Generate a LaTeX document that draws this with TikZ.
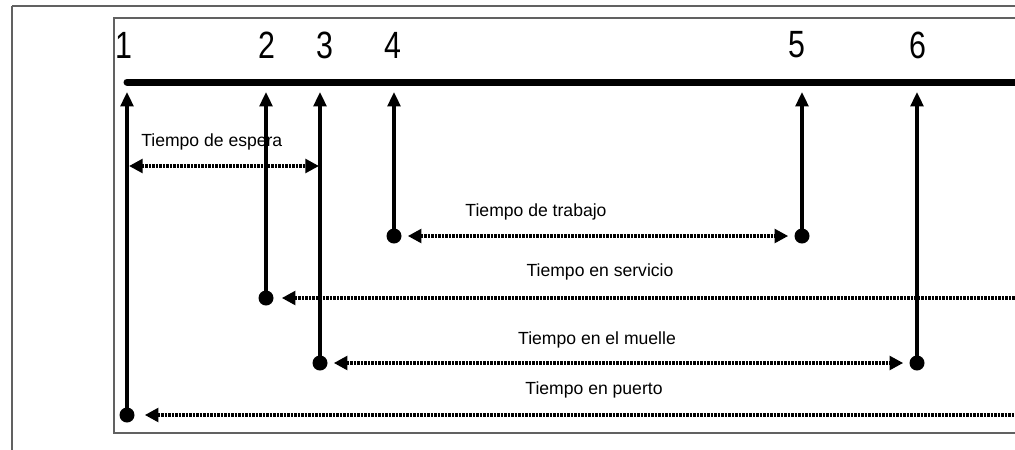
\documentclass[tikz,border=0pt]{standalone}
\usepackage{fontspec}
\setmainfont{Liberation Sans}
\newfontfamily\digitfont[FakeStretch=0.8]{Liberation Sans}
\usetikzlibrary{arrows.meta}
\newlength{\du}
\setlength{\du}{0.025cm}
\definecolor{framecolor}{rgb}{0.380000, 0.380000, 0.380000}
\definecolor{dialinecolor}{rgb}{0.000000, 0.000000, 0.000000}
\tikzset{
frameline/.style={draw=framecolor, line width=1.6\du},
timeaxis/.style={draw=dialinecolor, line width=7\du, line cap=round},
tickarrow/.style={draw=dialinecolor, line width=3.2\du, -{Triangle[length=0.36cm,width=0.32cm]}},
spanline/.style={draw=dialinecolor, line width=4\du, dash pattern=on 2.5\du off 1\du},
bothtips/.style={spanline, {Triangle[length=0.34cm,width=0.34cm]}-{Triangle[length=0.34cm,width=0.34cm]}},
lefttip/.style={spanline, {Triangle[length=0.34cm,width=0.34cm]}-},
enddot/.style={circle, fill=dialinecolor, inner sep=0pt, minimum size=15\du},
eventnum/.style={inner sep=0pt, font=\digitfont\fontsize{27pt}{30pt}\selectfont},
spanlabel/.style={inner sep=0pt, font=\fontsize{12.5pt}{14pt}\selectfont}
}

\begin{document}
\begin{tikzpicture}
\pgftransformxscale{1.000000}
\pgftransformyscale{-1.000000}
\clip (0\du,0\du) rectangle (1015\du,449\du);
% frames
\draw[frameline] (12\du,6\du)--(1030\du,6\du);
\draw[frameline] (12\du,6\du)--(12\du,470\du);
\draw[frameline] (1030\du,18\du)--(114\du,18\du)--(114\du,433\du)--(1030\du,433\du);
% time axis
\coordinate (axisA) at (127\du,82\du);
\coordinate (axisB) at (1040\du,82\du);
\draw[timeaxis] (axisA)--(axisB);
\node[eventnum] (n1) at (124\du,45\du){1};
\node[eventnum] (n2) at (267\du,45\du){2};
\node[eventnum] (n3) at (325\du,45\du){3};
\node[eventnum] (n4) at (393\du,45\du){4};
\node[eventnum] (n5) at (797\du,45\du){5};
\node[eventnum] (n6) at (918\du,45\du){6};
% tips on the axis
\coordinate (t1) at (127\du,92\du);
\coordinate (t2) at (266\du,92\du);
\coordinate (t3) at (320\du,92\du);
\coordinate (t4) at (394\du,92\du);
\coordinate (t5) at (802\du,92\du);
\coordinate (t6) at (917\du,92\du);
% dots
\node[enddot] (d1) at (127\du,415\du){};
\node[enddot] (d2) at (266\du,298\du){};
\node[enddot] (d3) at (320\du,363\du){};
\node[enddot] (d4) at (394\du,236\du){};
\node[enddot] (d5) at (802\du,236\du){};
\node[enddot] (d6) at (917\du,363\du){};
\draw[tickarrow] (d1.center)--(t1);
\draw[tickarrow] (d2.center)--(t2);
\draw[tickarrow] (d3.center)--(t3);
\draw[tickarrow] (d4.center)--(t4);
\draw[tickarrow] (d5.center)--(t5);
\draw[tickarrow] (d6.center)--(t6);
% Tiempo de espera
\coordinate (e1) at (129\du,166\du);
\coordinate (e3) at (319\du,166\du);
\draw[bothtips] (e1)--(e3);
\node[spanlabel, anchor=west] (lblespera) at (141\du,142\du){Tiempo de espera};
% Tiempo de trabajo
\draw[bothtips, shorten <=6\du, shorten >=6\du] (d4)--(d5);
\node[spanlabel] (lbltrabajo) at (536\du,212\du){Tiempo de trabajo};
% Tiempo en servicio
\coordinate (s9) at (1030\du,298\du);
\draw[lefttip, shorten <=8\du] (d2)--(s9);
\node[spanlabel] (lblservicio) at (600\du,272\du){Tiempo en servicio};
% Tiempo en el muelle
\draw[bothtips, shorten <=6\du, shorten >=6\du] (d3)--(d6);
\node[spanlabel] (lblmuelle) at (597\du,340\du){Tiempo en el muelle};
% Tiempo en puerto
\coordinate (p9) at (1030\du,415\du);
\draw[lefttip, shorten <=10\du] (d1)--(p9);
\node[spanlabel] (lblpuerto) at (594\du,390\du){Tiempo en puerto};
\end{tikzpicture}
\end{document}
